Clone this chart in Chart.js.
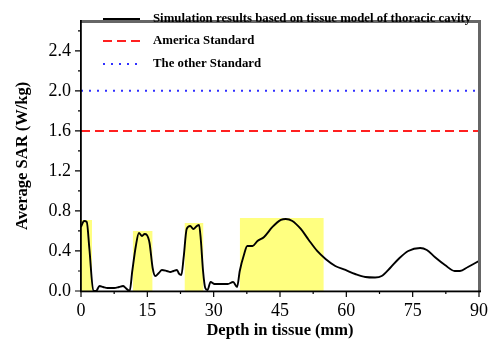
<!DOCTYPE html>
<html>
<head>
<meta charset="utf-8">
<script src="https://cdn.jsdelivr.net/npm/chart.js@4/dist/chart.umd.min.js"></script>
<style>
  html, body { margin: 0; padding: 0; background: #fff; }
  #wrap { width: 497px; height: 345px; }
</style>
</head>
<body>
<div id="wrap"><canvas id="sarChart" width="497" height="345"></canvas></div>
<script>
// depth (mm) and SAR (W/kg)
const depthMm = [0, 0.7, 1.3, 1.9, 2.8, 3.4, 4.2, 5.0, 6.0, 7.5, 8.6, 9.5, 10.1, 11.0, 11.6, 12.4, 13.1, 13.8, 14.4, 14.9, 15.5, 16.2, 16.8, 17.6, 18.3, 19.4, 20.2, 20.9, 21.7, 22.2, 22.7, 23.2, 23.9, 24.7, 25.4, 26.2, 26.7, 27.1, 27.6, 28.1, 28.6, 29.3, 30.2, 31.7, 33.2, 34.4, 35.3, 35.9, 36.9, 37.6, 38.8, 39.9, 41.4, 43.3, 45.2, 46.3, 47.8, 49.7, 51.5, 53.4, 55.3, 57.5, 59.8, 62.0, 64.3, 66.5, 68.0, 69.9, 71.8, 74.0, 76.7, 78.2, 80.0, 82.3, 84.5, 85.7, 87.5, 90];
const sarValues = [0.64, 0.70, 0.69, 0.42, 0.0, 0.0, 0.05, 0.04, 0.03, 0.03, 0.04, 0.05, 0.03, 0.0, 0.2, 0.45, 0.58, 0.55, 0.57, 0.56, 0.48, 0.23, 0.15, 0.18, 0.21, 0.20, 0.19, 0.20, 0.21, 0.17, 0.16, 0.33, 0.62, 0.65, 0.62, 0.65, 0.66, 0.51, 0.2, 0.03, 0.01, 0.09, 0.07, 0.07, 0.07, 0.09, 0.04, 0.2, 0.37, 0.45, 0.45, 0.50, 0.54, 0.64, 0.71, 0.72, 0.70, 0.62, 0.51, 0.40, 0.32, 0.25, 0.21, 0.17, 0.14, 0.135, 0.15, 0.23, 0.32, 0.40, 0.43, 0.41, 0.34, 0.26, 0.20, 0.20, 0.24, 0.30];

// highlighted tissue bands
const bandStart = [0, 11.7, 23.4, 35.9];
const bandEnd = [2.5, 16.2, 27.7, 54.9];
const bandHeight = [0.71, 0.60, 0.68, 0.73];

const americaStandard = 1.6;
const otherStandard = 2.0;

const xTicks = [0, 15, 30, 45, 60, 75, 90];
const yTicks = [0, 0.4, 0.8, 1.2, 1.6, 2.0, 2.4];
const xMinor = [7.5, 22.5, 37.5, 52.5, 67.5, 82.5];
const yMinor = [0.2, 0.6, 1.0, 1.4, 1.8, 2.2, 2.6];

const seriesLabels = [
  'Simulation results based on tissue model of thoracic cavity',
  'America Standard',
  'The other Standard'
];

const serif = '"Liberation Serif", "DejaVu Serif", serif';

const datasets = [];

bandStart.forEach(function (s, i) {
  datasets.push({
    label: 'band' + i,
    data: [
      { x: s, y: 0 }, { x: s, y: bandHeight[i] },
      { x: bandEnd[i], y: bandHeight[i] }, { x: bandEnd[i], y: 0 }
    ],
    borderWidth: 0,
    pointRadius: 0,
    backgroundColor: '#ffff80',
    fill: 'origin',
    tension: 0,
    order: 10
  });
});

datasets.push({
  label: seriesLabels[0],
  data: depthMm.map((d, i) => ({ x: d, y: sarValues[i] })),
  borderColor: '#000',
  borderWidth: 1.9,
  pointRadius: 0,
  fill: false,
  cubicInterpolationMode: 'monotone',
  order: 2,
  isLegend: true
});

datasets.push({
  label: seriesLabels[1],
  data: [{ x: 0, y: americaStandard }, { x: 90, y: americaStandard }],
  borderColor: '#ff2020',
  borderWidth: 2,
  borderDash: [9, 5],
  pointRadius: 0,
  fill: false,
  order: 1,
  isLegend: true
});

datasets.push({
  label: seriesLabels[2],
  data: [{ x: 0, y: otherStandard }, { x: 90, y: otherStandard }],
  borderColor: '#3030ff',
  borderWidth: 2,
  borderDash: [2, 6],
  pointRadius: 0,
  fill: false,
  order: 1,
  isLegend: true
});

// frame, minor/major ticks and in-plot legend
const decorPlugin = {
  id: 'decor',
  afterDraw(chart) {
    const ctx = chart.ctx;
    const a = chart.chartArea;
    const xs = chart.scales.x, ys = chart.scales.y;
    const L = Math.round(a.left), R = Math.round(a.right);
    const T = Math.round(a.top), B = Math.round(a.bottom);
    ctx.save();
    ctx.setLineDash([]);

    // grey top and right edges
    ctx.fillStyle = '#666';
    ctx.fillRect(L, T - 1, R - L + 2, 3);
    ctx.fillRect(R - 1, T - 1, 3, B - T + 1);

    // black left and bottom axes
    ctx.fillStyle = '#000';
    ctx.fillRect(L - 1, T - 1, 1.8, B - T + 2);
    ctx.fillRect(L - 1, B - 0.5, R - L + 3, 1.8);

    ctx.strokeStyle = '#000';
    ctx.lineWidth = 1.2;
    ctx.beginPath();
    xTicks.forEach(v => { const p = xs.getPixelForValue(v); ctx.moveTo(p, B); ctx.lineTo(p, B + 6); });
    xMinor.forEach(v => { const p = xs.getPixelForValue(v); ctx.moveTo(p, B); ctx.lineTo(p, B + 3); });
    yTicks.forEach(v => { const p = ys.getPixelForValue(v); ctx.moveTo(L, p); ctx.lineTo(L - 6, p); });
    yMinor.forEach(v => { const p = ys.getPixelForValue(v); ctx.moveTo(L, p); ctx.lineTo(L - 3, p); });
    ctx.stroke();

    // legend
    const rows = [19, 41, 64];
    let r = 0;
    chart.data.datasets.forEach(ds => {
      if (!ds.isLegend) return;
      const y = rows[r++];
      ctx.strokeStyle = ds.borderColor;
      ctx.lineWidth = ds.borderWidth;
      ctx.setLineDash(ds.borderDash || []);
      ctx.beginPath();
      ctx.moveTo(103, y);
      ctx.lineTo(140, y);
      ctx.stroke();
      ctx.setLineDash([]);
      ctx.fillStyle = '#000';
      ctx.font = 'bold 12.8px ' + serif;
      ctx.textBaseline = 'middle';
      ctx.textAlign = 'left';
      ctx.fillText(ds.label, 153, y);
    });
    ctx.restore();
  }
};

new Chart(document.getElementById('sarChart').getContext('2d'), {
  type: 'line',
  data: { datasets: datasets },
  options: {
    responsive: false,
    animation: false,
    layout: { padding: { left: 0, right: 16, top: 5, bottom: 0 } },
    plugins: { legend: { display: false }, tooltip: { enabled: false } },
    scales: {
      x: {
        type: 'linear',
        min: 0,
        max: 90,
        afterBuildTicks: s => { s.ticks = xTicks.map(v => ({ value: v })); },
        afterFit: s => { s.height = 54; },
        grid: { display: false, drawTicks: false },
        border: { display: false },
        ticks: { color: '#000', padding: 9, font: { family: serif, size: 18 } },
        title: {
          display: true,
          text: 'Depth in tissue (mm)',
          color: '#000',
          font: { family: serif, size: 16.5, weight: 'bold' },
          padding: { top: 0, bottom: 4 }
        }
      },
      y: {
        type: 'linear',
        min: 0,
        max: 2.7,
        afterBuildTicks: s => { s.ticks = yTicks.map(v => ({ value: v })); },
        afterFit: s => { s.width = 81; },
        grid: { display: false, drawTicks: false },
        border: { display: false },
        ticks: {
          color: '#000',
          padding: 10,
          font: { family: serif, size: 18 },
          callback: v => v.toFixed(1)
        },
        title: {
          display: true,
          text: 'Average SAR (W/kg)',
          color: '#000',
          font: { family: serif, size: 16.5, weight: 'bold' },
          padding: { top: 13, bottom: 0 }
        }
      }
    }
  },
  plugins: [decorPlugin]
});
</script>
</body>
</html>
